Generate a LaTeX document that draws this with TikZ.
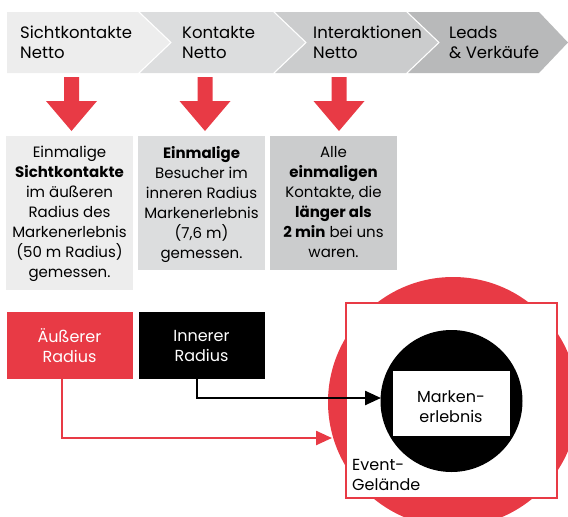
\documentclass[tikz,border=0pt]{standalone}
\usepackage{fontspec}
\setmainfont{Poppins}
\usetikzlibrary{arrows.meta}
\definecolor{cred}{HTML}{E83A45}
\definecolor{cg1}{HTML}{EDEDED}
\definecolor{cg2}{HTML}{DCDDDE}
\definecolor{cg3}{HTML}{CBCCCD}
\definecolor{cg4}{HTML}{B8B9BA}
\tikzset{
  toplabel/.style={anchor=base west,align=left,font=\fontsize{16.5}{19.5}\selectfont,inner sep=0pt,text=black},
  infobox/.style={anchor=north,align=center,font=\fontsize{15}{20}\selectfont,inner sep=0pt,text=black},
  downarrow/.style={fill=cred,draw=none},
  radiusbox/.style={minimum width=126pt,minimum height=67pt,inner sep=0pt,align=center,text=white,font=\fontsize{16}{20}\selectfont},
  conn/.style={line width=2.4pt,-{Triangle[length=16pt,width=14pt]}}
}
\begin{document}
\begin{tikzpicture}[x=1pt,y=-1pt]
\useasboundingbox (0,0) rectangle (568,517);
\clip (0,0) rectangle (568,517);
% chevrons
\fill[cg1] (7,12) -- (138,12) -- (170,42.5) -- (138,73) -- (7,73) -- cycle;
\fill[cg2] (140,12) -- (273,12) -- (305,42.5) -- (273,73) -- (140,73) -- (172,42.5) -- cycle;
\fill[cg3] (275,12) -- (406,12) -- (438,42.5) -- (406,73) -- (275,73) -- (307,42.5) -- cycle;
\fill[cg4] (408,12) -- (539,12) -- (568,42.5) -- (539,73) -- (408,73) -- (440,42.5) -- cycle;
\node[toplabel] (t1) at (20,58) {Sichtkontakte\\Netto};
\node[toplabel] (t2) at (182,58) {Kontakte\\Netto};
\node[toplabel] (t3) at (313,58) {Interaktionen\\Netto};
\node[toplabel] (t4) at (449,58) {Leads\\\&~Verkäufe};
% down arrows
\foreach \c in {71.5,205,339}{
  \fill[downarrow] (\c-7.5,77) -- (\c+7.5,77) -- (\c+7.5,101) -- (\c+25.5,101) -- (\c,131) -- (\c-25.5,101) -- (\c-7.5,101) -- cycle;
}
% info boxes
\fill[cg1] (6,136) rectangle (133,290);
\fill[cg2] (138,136) rectangle (265,270);
\fill[cg3] (270,136) rectangle (397,270);
\node[infobox] (b1) at (69.5,146) {Einmalige\\\textbf{Sichtkontakte}\\im äußeren\\Radius des\\Markenerlebnis\\(50 m Radius)\\gemessen.};
\node[infobox] (b2) at (201.5,146) {\textbf{Einmalige}\\Besucher im\\inneren Radius\\Markenerlebnis\\(7,6 m)\\gemessen.};
\node[infobox] (b3) at (333.5,146) {Alle\\\textbf{einmaligen}\\Kontakte, die\\\textbf{länger als}\\\textbf{2 min} bei uns\\waren.};
% event area
\fill[cred] (453,402) circle (125);
\draw[cred,line width=2pt,fill=white] (346,303) rectangle (557,498);
\fill[black] (451.5,401) circle (71);
\node[draw=black,line width=1pt,fill=white,minimum width=118pt,minimum height=66pt,inner sep=0pt] (me) at (451,403) {};
\node[anchor=base,align=center,inner sep=0pt,font=\fontsize{16}{20}\selectfont] (mt) at (451,422) {Marken-\\erlebnis};
\coordinate (bc) at (381,398);
\coordinate (rc) at (332,438);
\node[anchor=base west,align=left,inner sep=0pt,font=\fontsize{16}{20}\selectfont] (eg) at (352,490) {Event-\\Gelände};
% radius boxes
\node[radiusbox,fill=cred] (ar) at (69.5,345.5) {Äußerer\\Radius};
\node[radiusbox,fill=black] (ir) at (201.5,345.5) {Innerer\\Radius};
% connectors
\draw[conn,cred] (ar.south -| 62,0) |- (rc);
\draw[conn,black] (ir.south -| 197,0) |- (bc);
\end{tikzpicture}
\end{document}
